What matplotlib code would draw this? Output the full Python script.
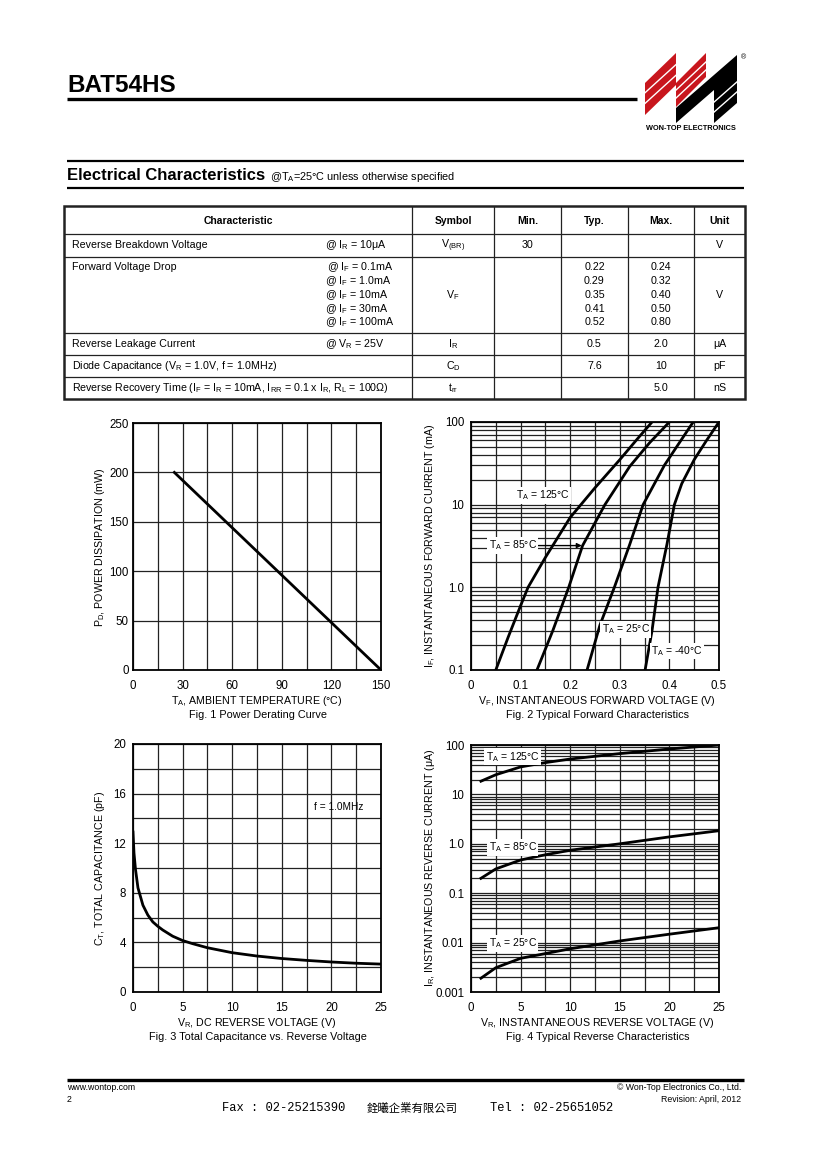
import numpy as np
import matplotlib
matplotlib.use("Agg")
import matplotlib.pyplot as plt
from matplotlib.lines import Line2D
from matplotlib.patches import Polygon, Rectangle
from matplotlib.ticker import FixedLocator, LogLocator, NullFormatter, MultipleLocator

plt.rcParams['font.family'] = ['Liberation Sans', 'DejaVu Sans']
plt.rcParams['mathtext.default'] = 'regular'

W, H = 820, 1160

# ---- table data ----
col_heads = ["Characteristic", "Symbol", "Min.", "Typ.", "Max.", "Unit"]
row_chars = ["Reverse Breakdown Voltage",
             "Forward Voltage Drop",
             "Reverse Leakage Current",
             "Diode Capacitance (V$_R$ = 1.0V, f = 1.0MHz)",
             "Reverse Recovery Time (I$_F$ = I$_R$ = 10mA, I$_{RR}$ = 0.1 x I$_R$, R$_L$ = 100Ω)"]
row_conds = [["@ I$_R$ = 10μA"],
             ["@ I$_F$ = 0.1mA", "@ I$_F$ = 1.0mA", "@ I$_F$ = 10mA",
              "@ I$_F$ = 30mA", "@ I$_F$ = 100mA"],
             ["@ V$_R$ = 25V"], [], []]
row_symbols = ["V$_{(BR)}$", "V$_F$", "I$_R$", "C$_D$", "t$_{rr}$"]
row_min = [["30"], [], [], [], []]
row_typ = [[], ["0.22", "0.29", "0.35", "0.41", "0.52"], ["0.5"], ["7.6"], []]
row_max = [[], ["0.24", "0.32", "0.40", "0.50", "0.80"], ["2.0"], ["10"], ["5.0"]]
row_unit = ["V", "V", "μA", "pF", "nS"]

# ---- Fig 1: power derating ----
derate_temp = [25, 150]
derate_power = [200, 0]

# ---- Fig 2: forward characteristics (V, mA) ----
vf_125 = [0.05, 0.075, 0.1, 0.115, 0.15, 0.2, 0.25, 0.3, 0.335, 0.365]
if_125 = [0.1, 0.25, 0.6, 1.0, 2.3, 7.0, 16, 35, 62, 100]
vf_85 = [0.133, 0.165, 0.197, 0.225, 0.27, 0.32, 0.36, 0.4]
if_85 = [0.1, 0.3, 1.0, 3.2, 10, 29, 56, 100]
vf_25 = [0.234, 0.26, 0.289, 0.32, 0.347, 0.39, 0.42, 0.448]
if_25 = [0.1, 0.35, 1.0, 3.3, 10, 30, 56, 100]
vf_m40 = [0.351, 0.365, 0.377, 0.395, 0.41, 0.425, 0.45, 0.475, 0.5]
if_m40 = [0.1, 0.3, 1.0, 3.3, 10, 18, 35, 60, 100]

# ---- Fig 3: capacitance ----
cap_vr = [0, 0.1, 0.25, 0.5, 1, 1.5, 2, 2.5, 3, 4, 5, 6, 7.5, 10, 12.5, 15, 17.5, 20, 22.5, 25]
cap_pf = [12.9, 11.2, 9.9, 8.4, 7.0, 6.2, 5.65, 5.3, 5.0, 4.5, 4.15, 3.9, 3.57, 3.17,
          2.9, 2.7, 2.55, 2.42, 2.32, 2.25]

# ---- Fig 4: reverse characteristics (V, uA) ----
rev_vr = [1, 2.5, 5, 7.5, 10, 15, 20, 25]
ir_125 = [18.5, 25, 36, 44, 52, 67, 83, 100]
ir_85 = [0.2, 0.31, 0.47, 0.6, 0.74, 1.0, 1.38, 1.84]
ir_25 = [0.0019, 0.0031, 0.0048, 0.006, 0.0075, 0.0108, 0.0148, 0.02]

fig = plt.figure(figsize=(W / 100, H / 100), dpi=100)


def fx(x):
    return x / W


def fy(y):
    return 1 - y / H


def text(x, y, s, **kw):
    kw.setdefault('va', 'center')
    fig.text(fx(x), fy(y), s, **kw)


def line(x0, y0, x1, y1, lw, color='black'):
    fig.add_artist(Line2D([fx(x0), fx(x1)], [fy(y0), fy(y1)], lw=lw,
                          color=color, transform=fig.transFigure,
                          solid_capstyle='butt'))


def poly(pts, color):
    fig.add_artist(Polygon([(fx(x), fy(y)) for x, y in pts], closed=True,
                           fc=color, ec='none', transform=fig.transFigure))


# header
text(67, 86, "BAT54HS", fontsize=17.5, fontweight='bold')
line(67, 99, 637, 99, 2.4)

# logo
red = '#c8161d'
poly([(645, 115), (645, 83), (676, 53), (676, 85)], red)
poly([(676, 107), (676, 83), (706, 53), (706, 77)], red)
poly([(676, 123), (676, 108), (737, 55), (737, 70)], 'black')
poly([(714, 123), (714, 88), (737, 68), (737, 103)], 'black')
for k in (1, 2):
    line(644, 83 + 32 * k / 3, 677, 53 + 32 * k / 3, 1.0, 'white')
    line(675, 83 + 24 * k / 3, 707, 53 + 24 * k / 3, 1.0, 'white')
line(713, 103, 738, 81, 1.0, 'white')
line(713, 113, 738, 91, 1.0, 'white')
text(741, 58, "®", fontsize=5)
text(691, 128, "WON-TOP ELECTRONICS", fontsize=5.3, fontweight='bold', ha='center')

# electrical characteristics title
line(67, 161, 744, 161, 1.6)
text(67, 176, "Electrical Characteristics", fontsize=12, fontweight='bold')
text(270, 177, "@T$_A$=25°C unless otherwise specified", fontsize=7.8)
line(67, 188, 744, 188, 1.6)

# table
col_x = [64, 412, 494, 561, 628, 694, 745]
row_y = [206, 234, 257, 333, 355, 377, 399]
fig.add_artist(Rectangle((fx(64), fy(399)), fx(745 - 64), (399 - 206) / H,
                         fill=False, lw=1.8, ec='#222', transform=fig.transFigure))
for x in col_x[1:-1]:
    line(x, 206, x, 399, 0.9, '#222')
for y in row_y[1:-1]:
    line(64, y, 745, y, 0.9, '#222')
col_cx = [238] + [(col_x[i] + col_x[i + 1]) / 2 for i in range(1, 6)]
for cx, h in zip(col_cx, col_heads):
    text(cx, 221, h, fontsize=7.5, fontweight='bold', ha='center')

fs = 7.7
for i in range(5):
    top, bot = row_y[i + 1], row_y[i + 2]
    mid = (top + bot) / 2
    n = max(len(row_conds[i]), 1)
    ys = [mid] if n == 1 else [top + 10.5 + 13.75 * k for k in range(n)]
    text(72, ys[0], row_chars[i], fontsize=fs)
    for k, c in enumerate(row_conds[i]):
        text(325 if not (i == 1 and k == 0) else 327, ys[k], c, fontsize=fs)
    text(col_cx[1], mid, row_symbols[i], fontsize=fs, ha='center')
    for col, vals in ((2, row_min[i]), (3, row_typ[i]), (4, row_max[i])):
        for k, v in enumerate(vals):
            text(col_cx[col], ys[k] if len(vals) > 1 else mid, v, fontsize=fs, ha='center')
    text(col_cx[5], mid, row_unit[i], fontsize=fs, ha='center')


def panel(l, t, r, b):
    ax = fig.add_axes([fx(l), fy(b), (r - l) / W, (b - t) / H])
    for s in ax.spines.values():
        s.set_linewidth(1.3)
    ax.tick_params(which='both', length=0, labelsize=8.3)
    ax.set_axisbelow(True)
    return ax


grid_kw = dict(color='#222', lw=0.9)
lab = 7.7

# Fig 1
ax1 = panel(133, 423, 381, 670)
ax1.plot(derate_temp, derate_power, color='black', lw=2)
ax1.set_xlim(0, 150)
ax1.set_ylim(0, 250)
ax1.xaxis.set_major_locator(MultipleLocator(30))
ax1.xaxis.set_minor_locator(MultipleLocator(15))
ax1.yaxis.set_major_locator(MultipleLocator(50))
ax1.grid(which='both', **grid_kw)
ax1.tick_params(axis='x', pad=7)
ax1.tick_params(axis='y', pad=3)
text(100, 547, "P$_D$, POWER DISSIPATION (mW)", fontsize=lab, rotation=90, ha='center')
text(257, 701, "T$_A$, AMBIENT TEMPERATURE (°C)", fontsize=lab, ha='center')
text(258, 715, "Fig. 1 Power Derating Curve", fontsize=7.8, ha='center')

# Fig 2
ax2 = panel(471, 422, 719, 670)
for v, i in ((vf_125, if_125), (vf_85, if_85), (vf_25, if_25), (vf_m40, if_m40)):
    ax2.plot(v, i, color='black', lw=2)
ax2.set_yscale('log')
ax2.set_xlim(0, 0.5)
ax2.set_ylim(0.1, 100)
ax2.xaxis.set_minor_locator(MultipleLocator(0.05))
ax2.set_xticks([0, 0.1, 0.2, 0.3, 0.4, 0.5], ["0", "0.1", "0.2", "0.3", "0.4", "0.5"])
ax2.set_yticks([0.1, 1, 10, 100], ["0.1", "1.0", "10", "100"])
ax2.yaxis.set_minor_locator(LogLocator(subs=range(2, 10)))
ax2.yaxis.set_minor_formatter(NullFormatter())
ax2.grid(which='both', **grid_kw)
ax2.tick_params(axis='x', pad=7)
ax2.tick_params(axis='y', pad=5)
bb = dict(fc='white', ec='none', pad=1)
ax2.text(0.145, 12.9, "T$_A$ = 125°C", fontsize=7.5, ha='center', va='center', bbox=bb)
ax2.annotate("", xy=(0.229, 3.2), xytext=(0.13, 3.2),
             arrowprops=dict(arrowstyle='-|>', color='black', lw=1, mutation_scale=7))
ax2.text(0.084, 3.2, "T$_A$ = 85°C", fontsize=7.5, ha='center', va='center', bbox=bb)
ax2.text(0.312, 0.31, "T$_A$ = 25°C", fontsize=7.5, ha='center', va='center', bbox=bb)
ax2.text(0.415, 0.17, "T$_A$ = -40°C", fontsize=7.5, ha='center', va='center', bbox=bb)
text(430, 546, "I$_F$, INSTANTANEOUS FORWARD CURRENT (mA)", fontsize=lab, rotation=90, ha='center')
text(597, 701, "V$_F$, INSTANTANEOUS FORWARD VOLTAGE (V)", fontsize=lab, ha='center')
text(598, 715, "Fig. 2 Typical Forward Characteristics", fontsize=7.8, ha='center')

# Fig 3
ax3 = panel(133, 744, 381, 992)
ax3.plot(cap_vr, cap_pf, color='black', lw=2)
ax3.set_xlim(0, 25)
ax3.set_ylim(0, 20)
ax3.xaxis.set_major_locator(MultipleLocator(5))
ax3.xaxis.set_minor_locator(MultipleLocator(2.5))
ax3.yaxis.set_major_locator(MultipleLocator(4))
ax3.yaxis.set_minor_locator(MultipleLocator(2))
ax3.grid(which='both', **grid_kw)
ax3.tick_params(axis='x', pad=7)
ax3.tick_params(axis='y', pad=5)
ax3.text(20.75, 14.9, "f = 1.0MHz", fontsize=7.3, ha='center', va='center')
text(100, 868, "C$_T$, TOTAL CAPACITANCE (pF)", fontsize=lab, rotation=90, ha='center')
text(257, 1023, "V$_R$, DC REVERSE VOLTAGE (V)", fontsize=lab, ha='center')
text(258, 1037, "Fig. 3 Total Capacitance vs. Reverse Voltage", fontsize=7.8, ha='center')

# Fig 4
ax4 = panel(471, 745, 719, 992)
for i in (ir_125, ir_85, ir_25):
    ax4.plot(rev_vr, i, color='black', lw=2)
ax4.set_yscale('log')
ax4.set_xlim(0, 25)
ax4.set_ylim(0.001, 100)
ax4.xaxis.set_major_locator(MultipleLocator(5))
ax4.xaxis.set_minor_locator(MultipleLocator(2.5))
ax4.set_yticks([0.001, 0.01, 0.1, 1, 10, 100], ["0.001", "0.01", "0.1", "1.0", "10", "100"])
ax4.yaxis.set_minor_locator(LogLocator(subs=range(2, 10)))
ax4.yaxis.set_minor_formatter(NullFormatter())
ax4.grid(which='both', **grid_kw)
ax4.tick_params(axis='x', pad=7)
ax4.tick_params(axis='y', pad=5)
ax4.text(4.2, 58, "T$_A$ = 125°C", fontsize=7.5, ha='center', va='center', bbox=bb)
ax4.text(4.2, 0.85, "T$_A$ = 85°C", fontsize=7.5, ha='center', va='center', bbox=bb)
ax4.text(4.2, 0.0096, "T$_A$ = 25°C", fontsize=7.5, ha='center', va='center', bbox=bb)
text(430, 868, "I$_R$, INSTANTANEOUS REVERSE CURRENT (μA)", fontsize=lab, rotation=90, ha='center')
text(597, 1023, "V$_R$, INSTANTANEOUS REVERSE VOLTAGE (V)", fontsize=lab, ha='center')
text(598, 1037, "Fig. 4 Typical Reverse Characteristics", fontsize=7.8, ha='center')

# footer
line(67, 1080, 744, 1080, 2.4)
text(67, 1088, "www.wontop.com", fontsize=6.3)
text(67, 1099, "2", fontsize=6.3)
text(741, 1088, "© Won-Top Electronics Co., Ltd.", fontsize=6.3, ha='right')
text(741, 1100, "Revision: April, 2012", fontsize=6.3, ha='right')
mono = ['Liberation Mono', 'DejaVu Sans Mono']
text(222, 1108, "Fax : 02-25215390", fontsize=8.7, family=mono)
text(367, 1108, "銓曦企業有限公司", fontsize=8.2, family=['Noto Sans CJK TC', 'DejaVu Sans'])
text(490, 1108, "Tel : 02-25651052", fontsize=8.7, family=mono)

fig.savefig("out.png", dpi=100, facecolor='white')
